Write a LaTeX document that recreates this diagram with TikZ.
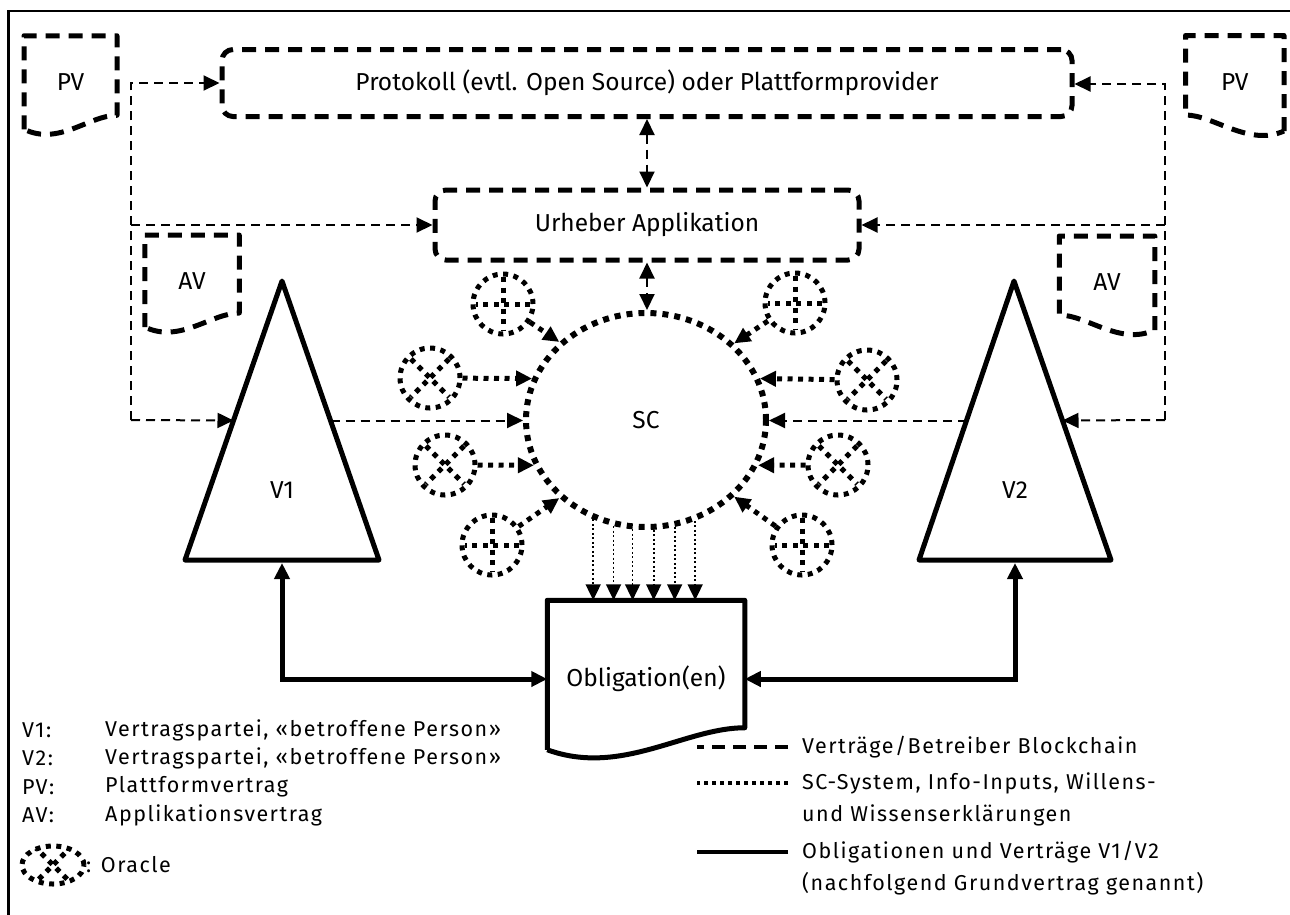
\documentclass[tikz,border=0pt]{standalone}
\usepackage{fontspec}
\setmainfont{Fira Sans}
\newfontfamily\legfont{Fira Sans}[LetterSpace=7]
\usetikzlibrary{arrows.meta,positioning,shapes.geometric}

\begin{document}
\begin{tikzpicture}[
  x=1pt, y=-1pt,
  >={Triangle[length=16pt,width=15pt]},
  font=\fontsize{24.5}{29}\selectfont,
  every node/.style={inner sep=0pt},
  boxdash/.style={draw, line width=5pt, dash pattern=on 14pt off 9pt, rounded corners=11pt},
  doc/.style={outer sep=0pt},
  docdash/.style={line width=5pt, dash pattern=on 14pt off 9pt, line join=round},
  solidline/.style={line width=5pt, line join=round},
  conn/.style={line width=2pt, dash pattern=on 9pt off 6pt, ->},
  bigdot/.style={line width=5pt, dash pattern=on 5pt off 5.5pt},
  oracle/.style={circle, draw, bigdot, minimum size=60pt,
    path picture={
      \draw[bigdot] ([shift={(#1:27pt)}]path picture bounding box.center) -- ([shift={(#1+180:27pt)}]path picture bounding box.center);
      \draw[bigdot] ([shift={(#1+90:27pt)}]path picture bounding box.center) -- ([shift={(#1+270:27pt)}]path picture bounding box.center);
    }},
  oarrow/.style={bigdot, ->},
  thindot/.style={line width=1.8pt, dash pattern=on 2pt off 2.5pt, ->},
  solidarr/.style={line width=5pt, <->},
  legend/.style={anchor=west, align=left, font=\legfont\fontsize{21.5}{32}\selectfont}
]
\useasboundingbox (0,0) rectangle (1290,914);
\draw[line width=2.5pt] (8.5,930) -- (8.5,11) -- (1300,11);

% platform and application
\node[boxdash, minimum width=850pt, minimum height=67pt] (proto) at (647,83) {Protokoll (evtl. Open Source) oder Plattformprovider};
\node[boxdash, minimum width=424pt, minimum height=70pt] (urh) at (647,225) {Urheber Applikation};

% contract documents
\node[doc, minimum width=93pt, minimum height=98.5pt] (pvl) at (70.5,85) {\raisebox{5pt}{PV}};
\node[doc, minimum width=94.5pt, minimum height=97pt] (avl) at (192,283.5) {\raisebox{5pt}{AV}};
\node[doc, minimum width=98.5pt, minimum height=99.5pt] (pvr) at (1234.75,85.25) {\raisebox{6pt}{PV}};
\node[doc, minimum width=95.5pt, minimum height=98pt] (avr) at (1107,285) {\raisebox{6pt}{AV}};
\draw[docdash] ([yshift=5pt]pvl.south west) -- (pvl.north west) -- (pvl.north east) -- ([yshift=19pt]pvl.south east)
  .. controls ([shift={(-28pt,19pt)}]pvl.south east) and ([shift={(35pt,-12pt)}]pvl.south west) .. ([yshift=5pt]pvl.south west);
\draw[docdash] ([yshift=5pt]avl.south west) -- (avl.north west) -- (avl.north east) -- ([yshift=19pt]avl.south east)
  .. controls ([shift={(-28pt,19pt)}]avl.south east) and ([shift={(35pt,-12pt)}]avl.south west) .. ([yshift=5pt]avl.south west);
\draw[docdash] ([yshift=4pt]pvr.south east) -- (pvr.north east) -- (pvr.north west) -- ([yshift=20pt]pvr.south west)
  .. controls ([shift={(28pt,20pt)}]pvr.south west) and ([shift={(-35pt,-12pt)}]pvr.south east) .. ([yshift=4pt]pvr.south east);
\draw[docdash] ([yshift=4pt]avr.south east) -- (avr.north east) -- (avr.north west) -- ([yshift=19pt]avr.south west)
  .. controls ([shift={(28pt,19pt)}]avr.south west) and ([shift={(-35pt,-12pt)}]avr.south east) .. ([yshift=4pt]avr.south east);

% parties
\draw[solidline] (185,560) -- node[coordinate,pos=.5] (v1w) {} (282,281) -- node[coordinate,pos=.5] (v1e) {} (379,560) -- cycle;
\draw[solidline] (919,560) -- node[coordinate,pos=.5] (v2w) {} (1014,281) -- node[coordinate,pos=.5] (v2e) {} (1111,560) -- cycle;
\node (v1) at (282,490) {V1};
\node (v2) at (1015,490) {V2};
\coordinate (v1s) at (282,563);
\coordinate (v2s) at (1015,563);

% smart contract and oracles
\node[ellipse, draw, bigdot, line width=6pt, dash pattern=on 6pt off 6pt, minimum width=240pt, minimum height=214pt] (sc) at (646,420) {SC};
\node[oracle=0] (o1) at (503,304) {};
\node[oracle=45] (o2) at (430,378) {};
\node[oracle=45] (o3) at (445,465) {};
\node[oracle=0] (o4) at (492,545) {};
\node[oracle=0] (o5) at (795,303) {};
\node[oracle=45] (o6) at (867,380) {};
\node[oracle=45] (o7) at (838,465) {};
\node[oracle=0] (o8) at (802,545) {};

% obligation
\node[doc, outer sep=2.5pt, minimum width=192.5pt, minimum height=152.5pt] (obl) at (646,679) {Obligation(en)};
\draw[solidline] ([yshift=8pt]obl.south west) -- (obl.north west) -- (obl.north east) -- ([yshift=30pt]obl.south east)
  .. controls ([shift={(-60pt,30pt)}]obl.south east) and ([shift={(74pt,-19pt)}]obl.south west) .. ([yshift=8pt]obl.south west);

% contracts, dashed
\coordinate (lt) at (131,83);
\coordinate (lb) at (131,420);
\coordinate (rt) at (1165,84);
\coordinate (rb) at (1165,420);
\draw[conn] (lb) -- (lt) -- (lt -| proto.west);
\draw[conn] (lt |- urh.west) -- (urh.west);
\draw[conn] (lb) -- (v1w);
\draw[conn] (v1e) -- (v1e -| sc.west);
\draw[conn] (rb) -- (rt) -- (rt -| proto.east);
\draw[conn] (rt |- urh.east) -- (urh.east);
\draw[conn] (rb) -- (v2e);
\draw[conn] (v2w) -- (v2w -| sc.east);
\draw[conn,<->] (proto.south) -- (urh.north);
\draw[conn,<->] (urh.south) -- (urh.south |- sc.north);

% inputs, dotted
\draw[oarrow] (o1) -- (sc.138);
\draw[oarrow] (o2) -- (sc.160);
\draw[oarrow] (o3) -- (sc.202);
\draw[oarrow] (o4) -- (sc.222);
\draw[oarrow] (o5) -- (sc.41);
\draw[oarrow] (o6) -- (sc.20);
\draw[oarrow] (o7) -- (sc.338);
\draw[oarrow] (o8) -- (sc.319);
\foreach \a in {242,253,263,274,285,296}
  \draw[thindot] (sc.\a) -- (sc.\a |- obl.north);

% base contract, solid
\draw[solidarr] (v1s) |- (obl.west);
\draw[solidarr] (v2s) |- (obl.east);

% legend
\node[legend] (k1) at (22,730) {V1:};
\node[legend] (t1) at (105,730) {Vertragspartei, «betroffene Person»};
\node[legend] (k2) at (22,758) {V2:};
\node[legend] (t2) at (105,758) {Vertragspartei, «betroffene Person»};
\node[legend] (k3) at (22,787) {PV:};
\node[legend] (t3) at (105,787) {Plattformvertrag};
\node[legend] (k4) at (22,815) {AV:};
\node[legend] (t4) at (105,815) {Applikationsvertrag};
\node[oracle=45, ellipse, minimum width=62pt, minimum height=38pt] (ko) at (53,865) {};
\node[legend] (t5) at (86,865) {: Oracle};

\node[legend] (l1) at (802,747) {Verträge/Betreiber Blockchain};
\node[legend] (l2) at (802,799) {SC-System, Info-Inputs, Willens-\\und Wissenserklärungen};
\node[legend] (l3) at (802,868.5) {Obligationen und Verträge V1/V2\\(nachfolgend Grundvertrag genannt)};
\draw[line width=4pt, dash pattern=on 13pt off 8pt] ([xshift=-14pt]l1.west) -- ++(-91,0);
\draw[line width=4pt, dash pattern=on 4pt off 4pt] ([xshift=-14pt,yshift=16pt]l2.west) -- ++(-91,0);
\draw[line width=3.5pt] ([xshift=-14pt,yshift=16.5pt]l3.west) -- ++(-91,0);
\end{tikzpicture}
\end{document}
